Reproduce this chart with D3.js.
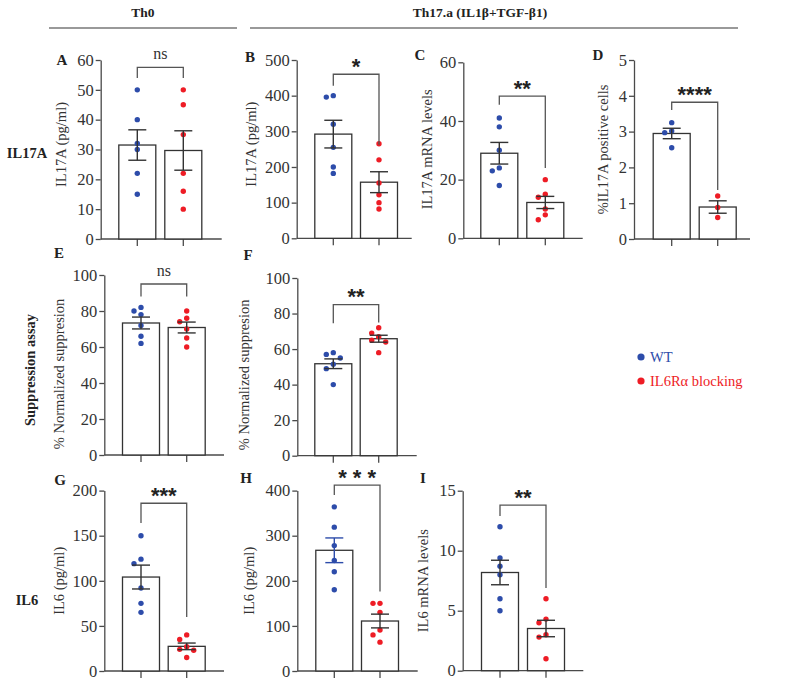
<!DOCTYPE html>
<html><head><meta charset="utf-8">
<script src="https://cdn.jsdelivr.net/npm/d3@7"></script>
<style>body{margin:0;background:#fff}svg{display:block}</style>
</head><body>
<svg id="c" width="800" height="690"></svg>
<script>
const groups = ["WT", "IL6Rα blocking"];
const groupColors = ["#2d4caa", "#ee1c25"];

// ---- data ----
const aWT = [50, 40, 32, 30, 22, 15];
const aBL = [50, 45, 35, 22, 16, 10];
const bWT = [400, 396, 320, 255, 200, 182];
const bBL = [265, 220, 155, 122, 100, 82];
const cWT = [41, 38, 30, 24, 23, 18];
const cBL = [20, 15, 14, 10, 8, 6.3];
const dWT = [3.25, 3.02, 2.97, 2.55];
const dBL = [1.2, 0.88, 0.6];
const eWT = [82, 80, 78, 72, 66, 62];
const eBL = [80, 76, 74, 70, 65, 60];
const fWT = [58, 57, 55, 51.5, 49, 40];
const fBL = [72, 69, 67, 65, 64, 58];
const gWT = [150, 124, 119, 92, 75, 65];
const gBL = [40, 35, 27, 24, 23, 15];
const hWT = [364, 319, 278, 245, 220, 180];
const hBL = [150, 150, 130, 91, 80, 64];
const iWT = [12, 9.4, 8.7, 8, 6, 5];
const iBL = [6, 4.3, 4, 3, 2.8, 1];

const ticksA = [0, 10, 20, 30, 40, 50, 60];
const ticksB = [0, 100, 200, 300, 400, 500];
const ticksC = [0, 20, 40, 60];
const ticksD = [0, 1, 2, 3, 4, 5];
const ticksEF = [0, 20, 40, 60, 80, 100];
const ticksG = [0, 50, 100, 150, 200];
const ticksH = [0, 100, 200, 300, 400];
const ticksI = [0, 5, 10, 15];

// significance bracket: [label, bracket value, left leg end value, right leg end value]
const sigA = ["ns", 57.5, 54, 54];
const sigB = ["*", 460, 428, 262];
const sigC = ["**", 48.5, 45.5, 24];
const sigD = ["****", 3.82, 3.6, 1.37];
const sigE = ["ns", 95, 88, 88];
const sigF = ["**", 85, 74.5, 75];
const sigG = ["***", 186, 164, 60];
const sigH = ["* * *", 412, 390, 176];
const sigI = ["**", 13.8, 12.9, 6.9];

const panels = [
  {id:"A", ylabel:"IL17A (pg/ml)", domain:[0,60], ticks:ticksA, vals:[aWT,aBL], sig:sigA},
  {id:"B", ylabel:"IL17A (pg/ml)", domain:[0,500], ticks:ticksB, vals:[bWT,bBL], sig:sigB},
  {id:"C", ylabel:"IL17A mRNA levels", domain:[0,60], ticks:ticksC, vals:[cWT,cBL], sig:sigC},
  {id:"D", ylabel:"%IL17A positive cells", domain:[0,5], ticks:ticksD, vals:[dWT,dBL], sig:sigD},
  {id:"E", ylabel:"% Normalized suppresion", domain:[0,100], ticks:ticksEF, vals:[eWT,eBL], sig:sigE},
  {id:"F", ylabel:"% Normalized suppresion", domain:[0,100], ticks:ticksEF, vals:[fWT,fBL], sig:sigF},
  {id:"G", ylabel:"IL6 (pg/ml)", domain:[0,200], ticks:ticksG, vals:[gWT,gBL], sig:sigG},
  {id:"H", ylabel:"IL6 (pg/ml)", domain:[0,400], ticks:ticksH, vals:[hWT,hBL], sig:sigH, wtErrColor:true},
  {id:"I", ylabel:"IL6 mRNA levels", domain:[0,15], ticks:ticksI, vals:[iWT,iBL], sig:sigI}
];

// ---- layout (pixels) ----
const layout = {
  A:{ax:100.7, xe:221.7, yt:60,    yb:239,   c:[137.3,183.3], lx:38, lc:-5, lt:[62,65]},
  B:{ax:296.7, xe:411.7, yt:60,    yb:238.3, c:[333.3,379],   lx:44, lc:-5, lt:[250,62]},
  C:{ax:463.3, xe:582.7, yt:62.3,  yb:238.3, c:[499.3,545.3], lx:35, lc:-1, lt:[420,60]},
  D:{ax:634,   xe:750,   yt:60,    yb:239,   c:[671.7,717.7], lx:29, lc:0,  lt:[598,60]},
  E:{ax:104.3, xe:224,   yt:275,   yb:455,   c:[141,186.7],   lx:44, lc:9,  lt:[59,258]},
  F:{ax:297.3, xe:416.7, yt:278,   yb:455.7, c:[333.3,378.7], lx:52, lc:8,  lt:[248,260]},
  G:{ax:104.3, xe:224,   yt:490.6, yb:671,   c:[141,186.7],   lx:44, lc:0,  lt:[60,485]},
  H:{ax:297.3, xe:417.7, yt:490.6, yb:671,   c:[334.3,380],   lx:47, lc:0,  lt:[246,483]},
  I:{ax:462.7, xe:583.3, yt:490.7, yb:670.7, c:[500,546],     lx:38, lc:0,  lt:[423,483]}
};

const svg = d3.select("#c");
const serif = "'Liberation Serif','Times New Roman',serif";
const sans = "'Liberation Sans',Arial,sans-serif";
const axisColor = "#4a4a4a";
const barW = 37;

// headers
const hdr = [{t:"Th0", x0:49, x1:237}, {t:"Th17.a (IL1β+TGF-β1)", x0:250, x1:738}];
hdr.forEach(h => {
  svg.append("text").attr("x",(h.x0+h.x1)/2 + (h.t==="Th0"?0:-14)).attr("y",17)
    .attr("text-anchor","middle").attr("font-family",serif).attr("font-weight","bold")
    .attr("font-size",13.5).attr("fill","#222").text(h.t);
  svg.append("line").attr("x1",h.x0).attr("x2",h.x1).attr("y1",28).attr("y2",28)
    .attr("stroke","#777").attr("stroke-width",1.5);
});

// row labels
svg.append("text").attr("x",27).attr("y",158).attr("text-anchor","middle")
  .attr("font-family",serif).attr("font-weight","bold").attr("font-size",14.5).attr("fill","#222").text("IL17A");
svg.append("text").attr("transform","translate(35,370) rotate(-90)").attr("text-anchor","middle")
  .attr("font-family",serif).attr("font-weight","bold").attr("font-size",14.5).attr("fill","#222").text("Suppression assay");
svg.append("text").attr("x",27).attr("y",605).attr("text-anchor","middle")
  .attr("font-family",serif).attr("font-weight","bold").attr("font-size",14.5).attr("fill","#222").text("IL6");

// legend
groups.forEach((g,i) => {
  const yy = 357 + i*24;
  svg.append("circle").attr("cx",641).attr("cy",yy).attr("r",3.6).attr("fill",groupColors[i]);
  svg.append("text").attr("x",650).attr("y",yy+5).attr("font-family",serif).attr("font-size",14.5)
    .attr("fill",groupColors[i]).text(g);
});

panels.forEach(p => {
  const L = layout[p.id];
  const g = svg.append("g");
  const y = d3.scaleLinear().domain(p.domain).range([L.yb, L.yt]);
  const x = d3.scalePoint().domain(groups).range(L.c);

  // y axis
  const ya = g.append("g").attr("transform",`translate(${L.ax},0)`)
    .call(d3.axisLeft(y).tickValues(p.ticks).tickFormat(d3.format("~g")).tickSize(5).tickPadding(2).tickSizeOuter(0));
  ya.select(".domain").attr("stroke",axisColor).attr("stroke-width",1.3);
  ya.selectAll(".tick line").attr("stroke",axisColor).attr("stroke-width",1.3);
  ya.selectAll(".tick text").attr("font-family",serif).attr("font-size",16.5).attr("fill","#333");

  // x axis
  const xa = g.append("g").attr("transform",`translate(0,${L.yb})`);
  xa.append("line").attr("x1",L.ax).attr("x2",L.xe).attr("stroke",axisColor).attr("stroke-width",1.3);
  groups.forEach(gr => xa.append("line").attr("x1",x(gr)).attr("x2",x(gr)).attr("y1",0).attr("y2",7)
    .attr("stroke",axisColor).attr("stroke-width",1.3));

  // y label
  g.append("text").attr("transform",`translate(${L.ax - L.lx},${(L.yt+L.yb)/2 + L.lc}) rotate(-90)`)
    .attr("text-anchor","middle").attr("dominant-baseline","middle")
    .attr("font-family",serif).attr("font-size",14.5).attr("fill","#333").text(p.ylabel);

  // panel letter
  g.append("text").attr("x",L.lt[0]).attr("y",L.lt[1]).attr("text-anchor","middle")
    .attr("font-family",serif).attr("font-weight","bold").attr("font-size",15).attr("fill","#222").text(p.id);

  // bars
  groups.forEach((gr,gi) => {
    const v = p.vals[gi];
    const m = d3.mean(v);
    const sem = d3.deviation(v)/Math.sqrt(v.length);
    g.append("rect").attr("x",x(gr)-barW/2).attr("y",y(m)).attr("width",barW).attr("height",L.yb-y(m))
      .attr("fill","#fff").attr("stroke","#333").attr("stroke-width",1.3);
    // dots with simple swarm offset
    const placed = [];
    const sorted = v.slice().sort((a,b)=>b-a);
    sorted.forEach(val => {
      const cy = y(val);
      const offs = [0,-7,7,-14,14];
      let dx = 0;
      for (const o of offs) {
        if (!placed.some(pp => Math.abs(pp.dx-o) < 5.5 && Math.abs(pp.cy-cy) < 5.5)) { dx = o; break; }
      }
      placed.push({dx, cy});
      g.append("circle").attr("cx",x(gr)+dx).attr("cy",cy).attr("r",2.7).attr("fill",groupColors[gi]);
    });
    // error bar
    const ec = (p.wtErrColor && gi===0) ? groupColors[0] : "#333";
    const eg = g.append("g").attr("stroke",ec).attr("stroke-width",1.4);
    eg.append("line").attr("x1",x(gr)).attr("x2",x(gr)).attr("y1",y(m+sem)).attr("y2",y(m-sem));
    eg.append("line").attr("x1",x(gr)-9).attr("x2",x(gr)+9).attr("y1",y(m+sem)).attr("y2",y(m+sem));
    eg.append("line").attr("x1",x(gr)-9).attr("x2",x(gr)+9).attr("y1",y(m-sem)).attr("y2",y(m-sem));
  });

  // significance bracket
  const [lab, top, l1, l2] = p.sig;
  const x1 = x(groups[0]), x2 = x(groups[1]);
  g.append("path").attr("d",`M${x1},${y(l1)}V${y(top)}H${x2}V${y(l2)}`)
    .attr("fill","none").attr("stroke","#555").attr("stroke-width",1.3);
  if (lab === "ns") {
    g.append("text").attr("x",(x1+x2)/2).attr("y",y(top)-8).attr("text-anchor","middle")
      .attr("font-family",serif).attr("font-size",16).attr("fill","#333").text(lab);
  } else {
    g.append("text").attr("x",(x1+x2)/2).attr("y",y(top)-0.5).attr("text-anchor","middle")
      .attr("font-family",sans).attr("font-weight","bold").attr("font-size",22).attr("fill","#222").text(lab);
  }
});
</script>
</body></html>
